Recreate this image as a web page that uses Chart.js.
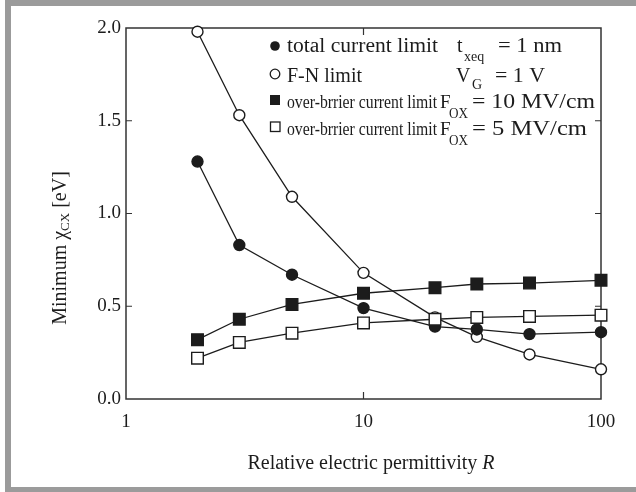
<!DOCTYPE html>
<html><head><meta charset="utf-8">
<script src="https://cdn.jsdelivr.net/npm/chart.js@4/dist/chart.umd.min.js"></script>
<style>html,body{margin:0;padding:0;background:#fff}#wrap{width:636px;height:492px}</style>
</head><body><div id="wrap"><canvas id="c" width="636" height="492"></canvas></div>
<script>
const permittivity = [2, 3, 5, 10, 20, 30, 50, 100];
const totalCurrentLimit = [1.28, 0.83, 0.67, 0.49, 0.39, 0.375, 0.35, 0.36];
const fnLimit = [1.98, 1.53, 1.09, 0.68, 0.44, 0.335, 0.24, 0.16];
const overBarrier10 = [0.32, 0.43, 0.51, 0.57, 0.60, 0.62, 0.625, 0.64];
const overBarrier5 = [0.22, 0.305, 0.355, 0.41, 0.43, 0.44, 0.445, 0.452];
const xTickValues = [1, 10, 100];
const xTickLabels = ['1', '10', '100'];
const yTickValues = [0, 0.5, 1.0, 1.5, 2.0];
const yTickLabels = ['0.0', '0.5', '1.0', '1.5', '2.0'];
const seriesNames = ['total current limit', 'F-N limit', 'over-brrier current limit', 'over-brrier current limit'];

const SERIF = '"Liberation Serif", "Times New Roman", serif';
const INK = '#1c1c1c';

function pts(arr) { return permittivity.map((x, i) => ({ x: x, y: arr[i] })); }

function fitRun(ctx, text, size, x0, x1, y, italic) {
  ctx.font = (italic ? 'italic ' : '') + size + 'px ' + SERIF;
  const w = ctx.measureText(text).width;
  const sx = x1 ? (x1 - x0) / w : 1;
  ctx.save();
  ctx.translate(x0, y);
  ctx.scale(sx, 1);
  ctx.fillText(text, 0, 0);
  ctx.restore();
}

const decor = {
  id: 'decor',
  beforeDraw(chart) {
    const ctx = chart.ctx;
    ctx.save();
    ctx.fillStyle = '#fff';
    ctx.fillRect(0, 0, chart.width, chart.height);
    ctx.fillStyle = '#9b9b9b';
    ctx.fillRect(5, 0, 6, 492);
    ctx.fillRect(5, 0, 631, 6);
    ctx.fillRect(5, 487, 631, 5);
    ctx.restore();
  },
  beforeDatasetsDraw(chart) {
    const ctx = chart.ctx, a = chart.chartArea;
    const xs = chart.scales.x, ys = chart.scales.y;
    ctx.save();
    ctx.strokeStyle = '#333';
    ctx.lineWidth = 1.5;
    ctx.strokeRect(a.left, a.top, a.right - a.left, a.bottom - a.top);
    ctx.lineWidth = 1.2;
    ctx.beginPath();
    yTickValues.slice(1, -1).forEach(v => {
      const p = ys.getPixelForValue(v);
      ctx.moveTo(a.left, p); ctx.lineTo(a.left + 6, p);
      ctx.moveTo(a.right, p); ctx.lineTo(a.right - 6, p);
    });
    xTickValues.slice(1, -1).forEach(v => {
      const p = xs.getPixelForValue(v);
      ctx.moveTo(p, a.bottom); ctx.lineTo(p, a.bottom - 7);
      ctx.moveTo(p, a.top); ctx.lineTo(p, a.top + 7);
    });
    ctx.stroke();
    ctx.restore();
  },
  afterDraw(chart) {
    const ctx = chart.ctx;
    ctx.save();
    ctx.fillStyle = INK;
    ctx.strokeStyle = INK;
    ctx.textBaseline = 'alphabetic';
    ctx.textAlign = 'left';
    // legend markers
    ctx.lineWidth = 1.3;
    ctx.beginPath(); ctx.arc(275, 46, 4.8, 0, Math.PI * 2); ctx.fill();
    ctx.fillStyle = '#fff';
    ctx.beginPath(); ctx.arc(275, 74, 4.8, 0, Math.PI * 2); ctx.fill(); ctx.stroke();
    ctx.fillStyle = INK;
    ctx.fillRect(270, 95, 10, 10);
    ctx.fillStyle = '#fff';
    ctx.fillRect(270.5, 122, 9.5, 9.5); ctx.strokeRect(270.5, 122, 9.5, 9.5);
    ctx.fillStyle = INK;
    // row 1
    fitRun(ctx, seriesNames[0], 20, 287, 438, 52);
    fitRun(ctx, 't', 20, 457, 0, 52);
    fitRun(ctx, 'xeq', 14, 464, 0, 61);
    fitRun(ctx, '= 1 nm', 20, 498, 562, 52);
    // row 2
    fitRun(ctx, seriesNames[1], 20, 287, 0, 82);
    fitRun(ctx, 'V', 20, 456, 0, 82);
    fitRun(ctx, 'G', 14, 472, 0, 89);
    fitRun(ctx, '= 1 V', 20, 495, 545, 82);
    // row 3
    fitRun(ctx, seriesNames[2], 18, 287, 437, 108);
    fitRun(ctx, 'F', 19, 440, 0, 108);
    fitRun(ctx, 'OX', 14, 449, 468, 118);
    fitRun(ctx, '= 10 MV/cm', 20, 472, 595, 108);
    // row 4
    fitRun(ctx, seriesNames[3], 18, 287, 437, 135);
    fitRun(ctx, 'F', 19, 440, 0, 135);
    fitRun(ctx, 'OX', 14, 449, 468, 145);
    fitRun(ctx, '= 5 MV/cm', 20, 472, 587, 135);
    // x title
    const t1 = 'Relative electric permittivity ';
    ctx.font = 'italic 20px ' + SERIF;
    const wR = ctx.measureText('R').width;
    ctx.font = '20px ' + SERIF;
    const w1 = ctx.measureText(t1).width;
    const xs0 = 371 - (w1 + wR) / 2;
    ctx.fillText(t1, xs0, 469);
    ctx.font = 'italic 20px ' + SERIF;
    ctx.fillText('R', xs0 + w1, 469);
    // y title
    ctx.save();
    ctx.translate(66, 248);
    ctx.rotate(-Math.PI / 2);
    ctx.font = '20px ' + SERIF;
    const a1 = 'Minimum \u03c7', a3 = ' [eV]';
    const wa1 = ctx.measureText(a1).width, wa3 = ctx.measureText(a3).width;
    ctx.font = '13px ' + SERIF;
    const wa2 = ctx.measureText('CX').width;
    let sx = -(wa1 + wa2 + wa3) / 2;
    ctx.font = '20px ' + SERIF;
    ctx.fillText(a1, sx, 0); sx += wa1;
    ctx.font = '13px ' + SERIF;
    ctx.fillText('CX', sx, 3); sx += wa2;
    ctx.font = '20px ' + SERIF;
    ctx.fillText(a3, sx, 0);
    ctx.restore();
    ctx.restore();
  }
};

const common = { borderColor: INK, borderWidth: 1.3, pointBorderColor: INK, pointBorderWidth: 1.4, tension: 0, clip: false, fill: false };

new Chart(document.getElementById('c'), {
  type: 'line',
  data: {
    datasets: [
      Object.assign({}, common, { label: seriesNames[0], data: pts(totalCurrentLimit), pointStyle: 'circle', pointRadius: 5.5, pointBackgroundColor: INK, order: 3 }),
      Object.assign({}, common, { label: seriesNames[1], data: pts(fnLimit), pointStyle: 'circle', pointRadius: 5.5, pointBackgroundColor: '#fff', order: 4 }),
      Object.assign({}, common, { label: seriesNames[2] + ' 10', data: pts(overBarrier10), pointStyle: 'rect', pointRadius: 8.2, pointBackgroundColor: INK, order: 2 }),
      Object.assign({}, common, { label: seriesNames[3] + ' 5', data: pts(overBarrier5), pointStyle: 'rect', pointRadius: 8.2, pointBackgroundColor: '#fff', order: 1 })
    ]
  },
  options: {
    responsive: false,
    animation: false,
    devicePixelRatio: 1,
    layout: { padding: { top: 28, right: 35, left: 0, bottom: 0 } },
    plugins: { legend: { display: false }, tooltip: { enabled: false } },
    scales: {
      x: {
        type: 'logarithmic', min: 1, max: 100, position: 'bottom',
        grid: { display: false, drawTicks: false }, border: { display: false },
        afterBuildTicks(s) { s.ticks = xTickValues.map(v => ({ value: v })); },
        afterFit(s) { s.height = 93; },
        ticks: { autoSkip: false, maxRotation: 0, padding: 12, color: INK, font: { family: SERIF, size: 19 },
          callback: (v, i) => xTickLabels[i] }
      },
      y: {
        type: 'linear', min: 0, max: 2,
        grid: { display: false, drawTicks: false }, border: { display: false },
        afterBuildTicks(s) { s.ticks = yTickValues.map(v => ({ value: v })); },
        afterFit(s) { s.width = 126; },
        ticks: { padding: 5, color: INK, font: { family: SERIF, size: 19 },
          callback: (v, i) => yTickLabels[i] }
      }
    }
  },
  plugins: [decor]
});
</script>
</body></html>
